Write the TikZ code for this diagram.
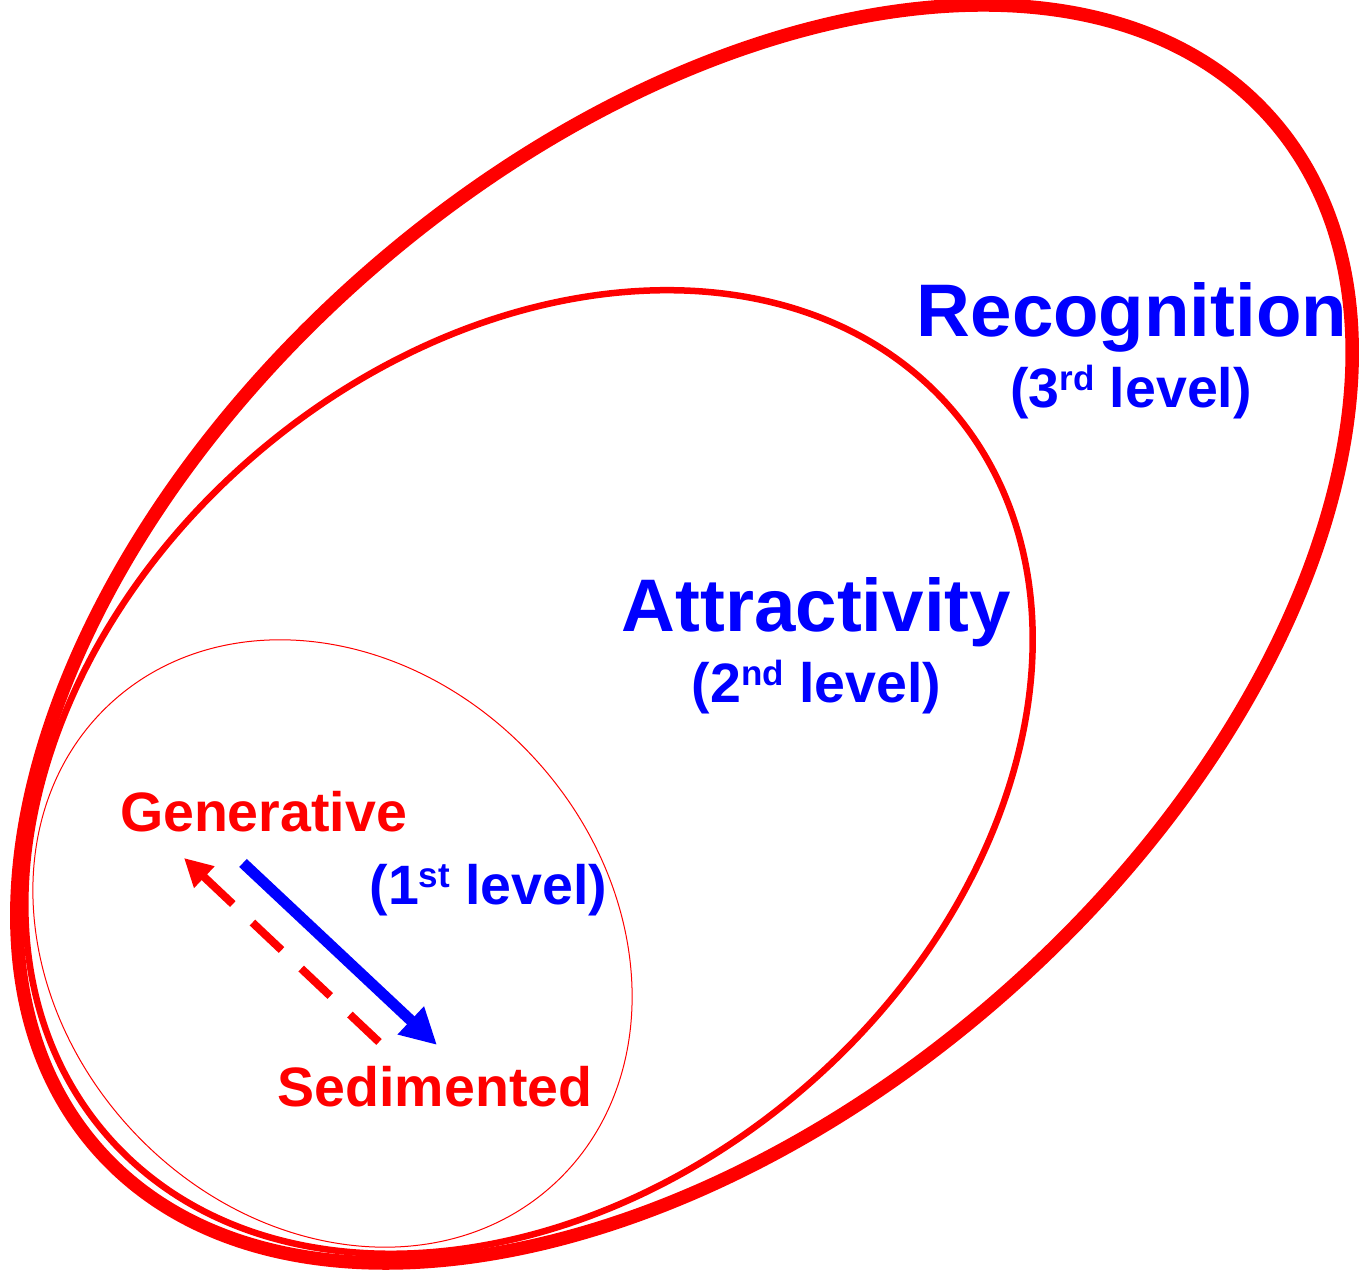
\documentclass[tikz,border=0pt]{standalone}
\usepackage{fontspec}
\setmainfont{Liberation Sans}
\usetikzlibrary{arrows.meta}
\definecolor{pred}{RGB}{255,0,0}
\definecolor{pblue}{RGB}{0,0,255}
\newcommand{\bigtxt}{\fontsize{74.5}{80}\selectfont\bfseries}
\newcommand{\midtxt}{\fontsize{55.5}{60}\selectfont\bfseries}
\newcommand{\suptxt}[1]{\raisebox{17pt}{\fontsize{35}{35}\selectfont #1}}
\begin{document}
\begin{tikzpicture}[x=1pt,y=1pt,
  ring/.style={draw=pred},
  titletxt/.style={text=pblue,font=\bigtxt,inner sep=0pt,anchor=base},
  leveltxt/.style={text=pblue,font=\midtxt,inner sep=0pt,anchor=base},
  poletxt/.style={text=pred,font=\midtxt,inner sep=0pt,anchor=base}]
\useasboundingbox (0,0) rectangle (1360,1271);
\fill[white] (0,0) rectangle (1360,1271);
% ellipses
\draw[ring,line width=13.5pt,rotate around={41.2:(684.5,637)}] (684.5,637) ellipse [x radius=781, y radius=481];
\draw[ring,line width=6.5pt,rotate around={40.4:(529,499)}] (529,499) ellipse [x radius=557, y radius=419];
\draw[ring,line width=1pt,rotate around={-47.2:(332.5,327.5)}] (332.5,327.5) ellipse [x radius=327, y radius=274];
% labels
\node[titletxt] (recog) at (1132,934) {Recognition};
\node[leveltxt] (lvl3) at (1131,863) {(3\suptxt{rd} level)};
\node[titletxt] (attr) at (816.5,639) {Attractivity};
\node[leveltxt] (lvl2) at (816.5,568) {(2\suptxt{nd} level)};
\node[poletxt] (gen) at (263.5,439) {Generative};
\node[leveltxt] (lvl1) at (488.5,366) {(1\suptxt{st} level)};
\node[poletxt] (sed) at (435,164) {Sedimented};
% arrows
\coordinate (bstart) at (243,408);
\coordinate (bend) at (437,226);
\coordinate (rstart) at (379,229);
\coordinate (rend) at (184,413);
\draw[pblue,line width=11pt,-{Triangle[length=36pt,width=36pt]}] (bstart) -- (bend);
\draw[pred,line width=8pt,dash pattern=on 40pt off 27pt,-{Triangle[length=28pt,width=28pt]}] (rstart) -- (rend);
\end{tikzpicture}
\end{document}
